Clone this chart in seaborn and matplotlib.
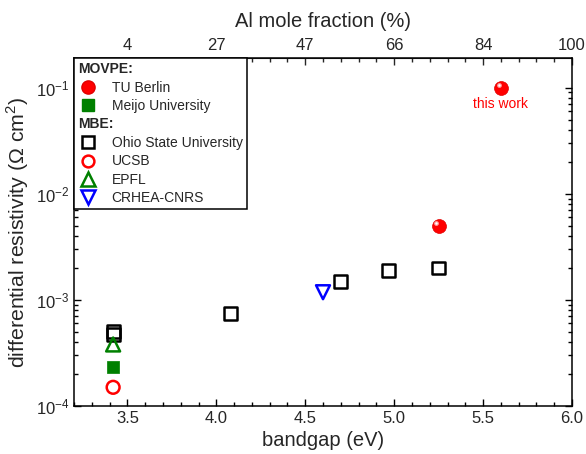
import numpy as np
import pandas as pd
import matplotlib
matplotlib.use("Agg")
import matplotlib.pyplot as plt
import matplotlib.transforms as mtransforms
from matplotlib.lines import Line2D
from matplotlib.ticker import MultipleLocator, FixedLocator, FixedFormatter, LogLocator, NullFormatter
import seaborn as sns

# bandgap (eV) and differential resistivity (Ohm cm^2) per group
tub_x = [5.25, 5.60]
tub_y = [5.0e-3, 1.0e-1]
meijo_x = [3.42]
meijo_y = [2.35e-4]
osu_x = [3.42, 3.42, 4.08, 4.70, 4.97, 5.25]
osu_y = [5.0e-4, 4.7e-4, 7.5e-4, 1.5e-3, 1.9e-3, 2.0e-3]
ucsb_x = [3.42]
ucsb_y = [1.5e-4]
epfl_x = [3.42]
epfl_y = [3.8e-4]
crhea_x = [4.60]
crhea_y = [1.18e-3]

# top axis: Al mole fraction at the bandgap ticks
top_ticks = [3.5, 4.0, 4.5, 5.0, 5.5, 6.0]
top_labels = ["4", "27", "47", "66", "84", "100"]

sns.set_style("ticks")
plt.rcParams["font.family"] = ["Liberation Sans", "DejaVu Sans"]
plt.rcParams["mathtext.fontset"] = "custom"
plt.rcParams["mathtext.rm"] = "Liberation Sans"
plt.rcParams["axes.unicode_minus"] = False

fig = plt.figure(figsize=(5.86, 4.54), dpi=100)
ax = fig.add_axes([74 / 586, 1 - 406 / 454, (572 - 74) / 586, (406 - 58) / 454])

def frame(x, y):
    return pd.DataFrame({"bandgap": x, "rho": y})

ms = 85
lw = 1.8
sns.scatterplot(data=frame(tub_x, tub_y), x="bandgap", y="rho", ax=ax, marker="o",
                s=100, color="#ff0000", edgecolor="#e00000", linewidth=0.5, zorder=4)
# specular highlight on the spheres
hl = mtransforms.offset_copy(ax.transData, fig=fig, x=-1.6, y=1.8, units="points")
ax.scatter(tub_x, tub_y, s=12, color="#ffb0b0", alpha=0.9, linewidths=0, transform=hl, zorder=5)
ax.scatter(tub_x, tub_y, s=3, color="white", linewidths=0, transform=hl, zorder=6)

sns.scatterplot(data=frame(meijo_x, meijo_y), x="bandgap", y="rho", ax=ax, marker="s",
                s=ms, color="#008000", edgecolor="#008000", linewidth=0.5, zorder=3)
sns.scatterplot(data=frame(osu_x, osu_y), x="bandgap", y="rho", ax=ax, marker="s",
                s=ms, facecolor="none", edgecolor="black", linewidth=lw, zorder=3)
sns.scatterplot(data=frame(ucsb_x, ucsb_y), x="bandgap", y="rho", ax=ax, marker="o",
                s=ms, facecolor="none", edgecolor="#ff0000", linewidth=lw, zorder=3)
sns.scatterplot(data=frame(epfl_x, epfl_y), x="bandgap", y="rho", ax=ax, marker="^",
                s=ms + 15, facecolor="none", edgecolor="#008000", linewidth=lw, zorder=3)
sns.scatterplot(data=frame(crhea_x, crhea_y), x="bandgap", y="rho", ax=ax, marker="v",
                s=ms + 15, facecolor="none", edgecolor="#0000ff", linewidth=lw, zorder=3)

ax.annotate("this work", xy=(tub_x[1], tub_y[1]), xytext=(0, -11.5), textcoords="offset points",
            ha="center", va="center", color="#ff0000", fontsize=10)

ax.set_yscale("log")
ax.set_xlim(3.2, 6.0)
ax.set_ylim(1e-4, 0.19)
ax.xaxis.set_major_locator(MultipleLocator(0.5))
ax.xaxis.set_minor_locator(MultipleLocator(0.1))
ax.xaxis.set_major_formatter(matplotlib.ticker.FormatStrFormatter("%.1f"))
ax.yaxis.set_major_locator(LogLocator(base=10, numticks=10))
ax.yaxis.set_minor_locator(LogLocator(base=10, subs=np.arange(2, 10), numticks=10))
ax.yaxis.set_minor_formatter(NullFormatter())

ax.set_xlabel("bandgap (eV)", fontsize=14.5, labelpad=4)
ax.set_ylabel(r"differential resistivity ($\Omega$ cm$^2$)", fontsize=15.3, labelpad=3)
ax.tick_params(which="both", direction="in", right=True, labelsize=12, width=1.0, color="black")
ax.tick_params(which="major", length=5)
ax.tick_params(which="minor", length=3)
for sp in ax.spines.values():
    sp.set_visible(True)
    sp.set_linewidth(1.1)
    sp.set_color("black")

top = ax.secondary_xaxis("top")
top.xaxis.set_major_locator(FixedLocator(top_ticks))
top.xaxis.set_major_formatter(FixedFormatter(top_labels))
top.xaxis.set_minor_locator(MultipleLocator(0.1))
top.tick_params(which="both", direction="in", labelsize=12, width=1.0)
top.tick_params(which="major", length=5)
top.tick_params(which="minor", length=3)
top.set_xlabel("Al mole fraction (%)", fontsize=14.5, labelpad=8)

blank = Line2D([], [], linestyle="none", marker=None)
handles = [
    blank,
    Line2D([], [], linestyle="none", marker="o", markersize=9.5, markerfacecolor="#ff0000", markeredgecolor="#e00000"),
    Line2D([], [], linestyle="none", marker="s", markersize=8.5, markerfacecolor="#008000", markeredgecolor="#008000"),
    blank,
    Line2D([], [], linestyle="none", marker="s", markersize=8.5, markerfacecolor="none", markeredgecolor="black", markeredgewidth=lw),
    Line2D([], [], linestyle="none", marker="o", markersize=8.5, markerfacecolor="none", markeredgecolor="#ff0000", markeredgewidth=lw),
    Line2D([], [], linestyle="none", marker="^", markersize=9.5, markerfacecolor="none", markeredgecolor="#008000", markeredgewidth=lw),
    Line2D([], [], linestyle="none", marker="v", markersize=9.5, markerfacecolor="none", markeredgecolor="#0000ff", markeredgewidth=lw),
]
labels = ["MOVPE:", "TU Berlin", "Meijo University", "MBE:", "Ohio State University",
          "UCSB", "EPFL", "CRHEA-CNRS"]
leg = ax.legend(handles, labels, loc="upper left", bbox_to_anchor=(0, 1), borderaxespad=0,
                frameon=True, fancybox=False, edgecolor="black", framealpha=1,
                fontsize=10, handlelength=1.4, handletextpad=1.0, labelspacing=0.32,
                borderpad=0.3)
leg.get_frame().set_linewidth(1.1)
for t in leg.get_texts():
    if t.get_text().endswith(":"):
        t.set_fontweight("bold")
# pull section headers flush left
for col in leg._legend_handle_box.get_children():
    for row in col.get_children():
        da, ta = row.get_children()
        if ta._text.get_text().endswith(":"):
            da.width = 0
            row.sep = 0

fig.savefig("out.png", dpi=100)
